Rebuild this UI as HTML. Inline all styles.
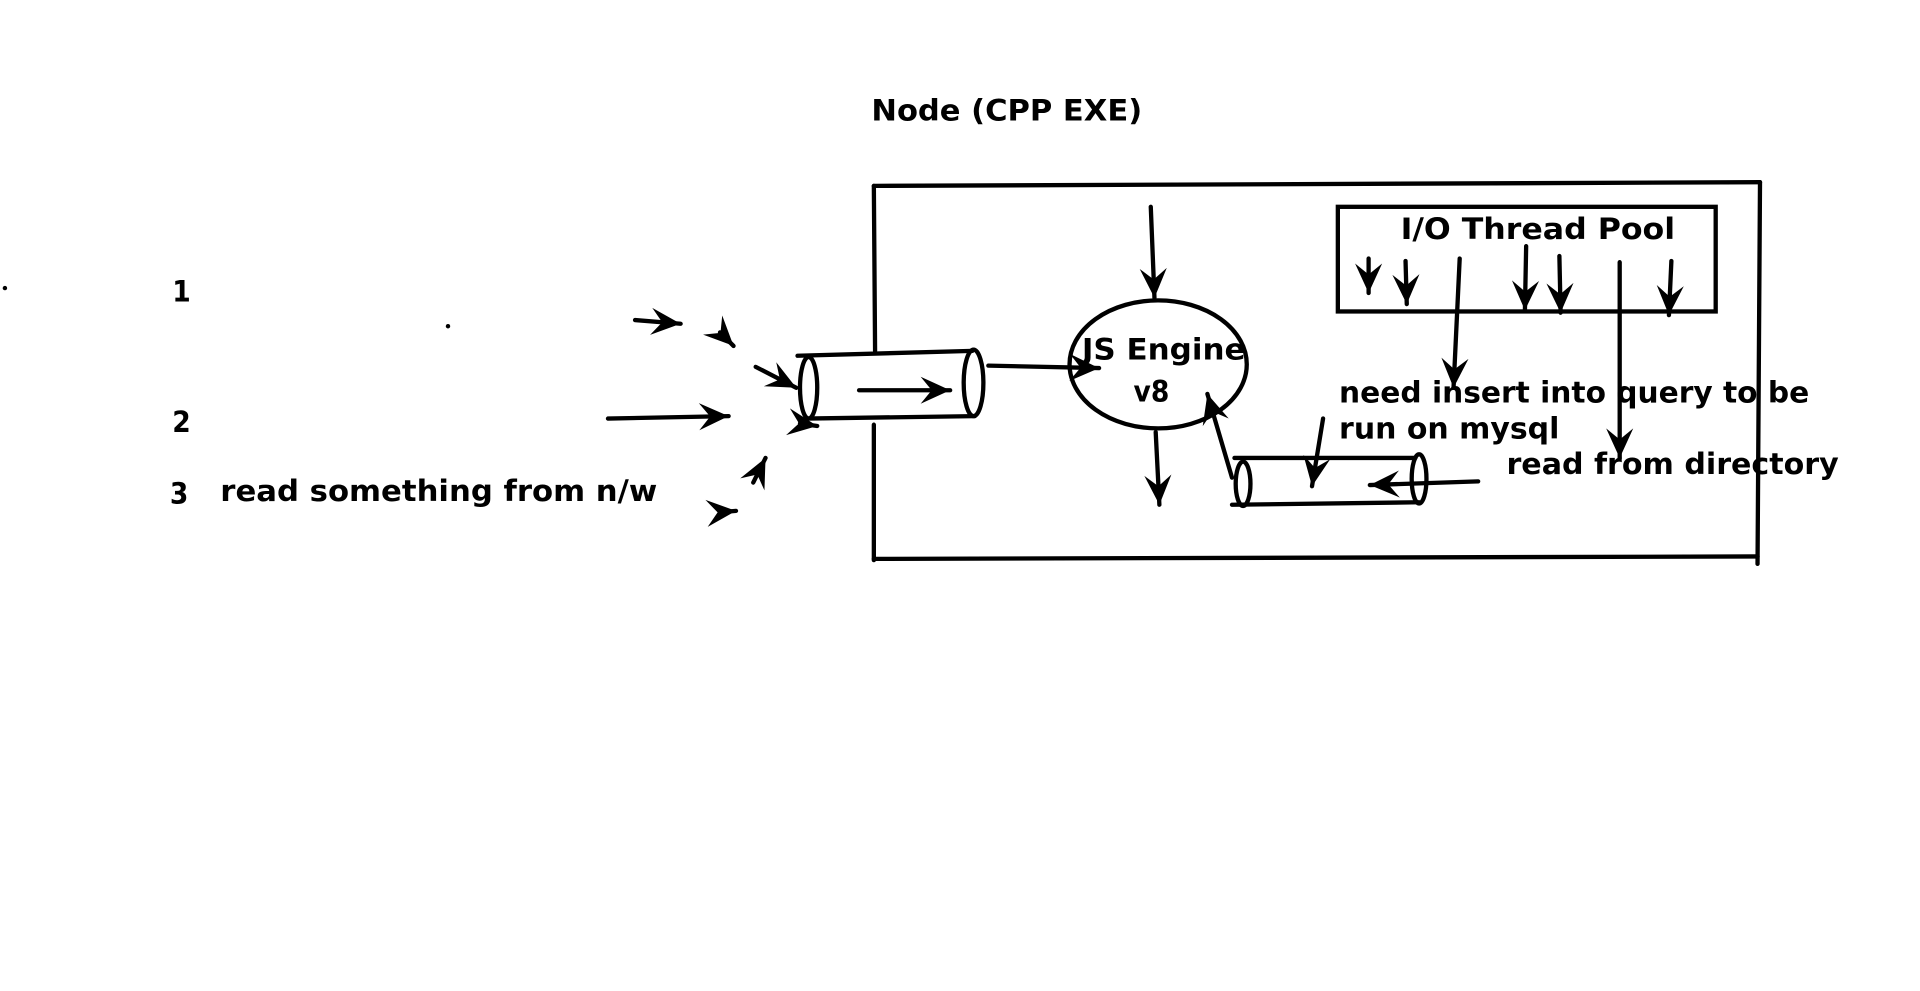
<!DOCTYPE html>
<html><head><meta charset="utf-8"><style>
html,body{margin:0;padding:0;background:#fff;width:1920px;height:991px;overflow:hidden}
svg{display:block}
text{font-family:"DejaVu Sans Condensed","DejaVu Sans","Liberation Sans",sans-serif;font-weight:bold;fill:#000}
</style></head><body>
<svg width="1920" height="991" viewBox="0 0 1560 805" preserveAspectRatio="none" xmlns="http://www.w3.org/2000/svg">
<defs>
<marker id="a" viewBox="-26 -12 28 24" refX="0" refY="0" markerWidth="28" markerHeight="24" markerUnits="userSpaceOnUse" orient="auto">
<path d="M0,0 L-24,-11 L-15,0 L-24,11 Z" fill="#000"/>
</marker>
</defs>
<g stroke="#000" stroke-width="3.5" fill="none" stroke-linecap="round">
<line x1="710" y1="151" x2="1430" y2="148"/>
<line x1="1430" y1="148" x2="1428" y2="458"/>
<line x1="710" y1="454" x2="1428" y2="452"/>
<line x1="710" y1="151" x2="711" y2="285"/>
<line x1="710" y1="345" x2="710" y2="455"/>
<line x1="648" y1="289" x2="790" y2="285"/>
<line x1="655" y1="340" x2="792" y2="338"/>
<ellipse cx="657" cy="315" rx="7" ry="25"/>
<ellipse cx="791" cy="311" rx="8" ry="27"/>
<line x1="698" y1="317" x2="772" y2="317" marker-end="url(#a)"/>
<line x1="803" y1="297" x2="893" y2="299" marker-end="url(#a)"/>
<ellipse cx="941" cy="296" rx="72" ry="52"/>
<line x1="935" y1="168" x2="938" y2="242" marker-end="url(#a)"/>
<line x1="939" y1="351" x2="942" y2="410" marker-end="url(#a)"/>
<line x1="1003" y1="372" x2="1150" y2="372"/>
<line x1="1001" y1="410" x2="1153" y2="408"/>
<ellipse cx="1010" cy="393" rx="6" ry="18"/>
<ellipse cx="1153" cy="389" rx="6" ry="20"/>
<line x1="1001" y1="388" x2="981" y2="320" marker-end="url(#a)"/>
<line x1="1075" y1="340" x2="1066" y2="395" marker-end="url(#a)"/>
<line x1="1201" y1="391" x2="1113" y2="394" marker-end="url(#a)"/>
<rect x="1087" y="168" width="307" height="85"/>
<line x1="1112" y1="210" x2="1112" y2="238" marker-end="url(#a)"/>
<line x1="1142" y1="212" x2="1143" y2="247" marker-end="url(#a)"/>
<line x1="1186" y1="210" x2="1181" y2="315" marker-end="url(#a)"/>
<line x1="1240" y1="200" x2="1239" y2="252" marker-end="url(#a)"/>
<line x1="1267" y1="208" x2="1268" y2="254" marker-end="url(#a)"/>
<line x1="1316" y1="213" x2="1316" y2="372" marker-end="url(#a)"/>
<line x1="1358" y1="212" x2="1356" y2="256" marker-end="url(#a)"/>
<line x1="516" y1="260" x2="553" y2="263" marker-end="url(#a)"/>
<line x1="585" y1="270" x2="596" y2="281" marker-end="url(#a)"/>
<line x1="614" y1="298" x2="647" y2="315" marker-end="url(#a)"/>
<line x1="494" y1="340" x2="592" y2="338" marker-end="url(#a)"/>
<line x1="650" y1="344" x2="664" y2="346" marker-end="url(#a)"/>
<line x1="612" y1="392" x2="622" y2="372" marker-end="url(#a)"/>
<line x1="586" y1="416" x2="598" y2="415" marker-end="url(#a)"/>
</g>
<circle cx="4" cy="234" r="1.8" fill="#000"/>
<circle cx="364" cy="265" r="1.8" fill="#000"/>
<text x="708" y="98" font-size="24" textLength="220" lengthAdjust="spacingAndGlyphs">Node (CPP EXE)</text>
<text x="879" y="292" font-size="24" textLength="133" lengthAdjust="spacingAndGlyphs">JS Engine</text>
<text x="921" y="326" font-size="24">v8</text>
<text x="1138" y="194" font-size="24" textLength="223" lengthAdjust="spacingAndGlyphs">I/O Thread Pool</text>
<text x="1088" y="327" font-size="24" textLength="382" lengthAdjust="spacingAndGlyphs">need insert into query to be</text>
<text x="1088" y="356" font-size="24" textLength="179" lengthAdjust="spacingAndGlyphs">run on mysql</text>
<text x="1224" y="385" font-size="24" textLength="270" lengthAdjust="spacingAndGlyphs">read from directory</text>
<text x="140" y="245" font-size="24">1</text>
<text x="140" y="351" font-size="24">2</text>
<text x="138" y="409" font-size="24">3</text>
<text x="179" y="407" font-size="24" textLength="355" lengthAdjust="spacingAndGlyphs">read something from n/w</text>
</svg>
</body></html>
